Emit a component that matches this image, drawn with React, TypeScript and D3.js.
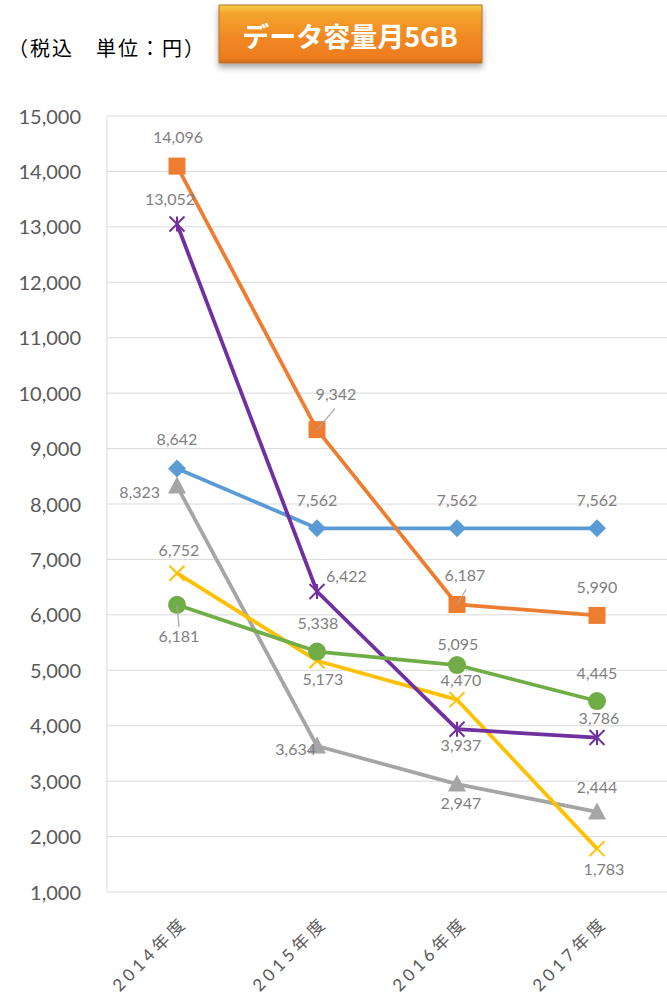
import { useRef, useEffect } from 'react'
import * as d3 from 'd3'

const categories = ['2014年度', '2015年度', '2016年度', '2017年度']
const yTickValues = [1000, 2000, 3000, 4000, 5000, 6000, 7000, 8000, 9000, 10000, 11000, 12000, 13000, 14000, 15000]

const blueValues = [8642, 7562, 7562, 7562]
const orangeValues = [14096, 9342, 6187, 5990]
const grayValues = [8323, 3634, 2947, 2444]
const yellowValues = [6752, 5173, 4470, 1783]
const purpleValues = [13052, 6422, 3937, 3786]
const greenValues = [6181, 5338, 5095, 4445]

type Anchor = 'start' | 'middle' | 'end'
type Nudge = [number, number, Anchor]

interface Series {
  values: number[]
  color: string
  marker: 'diamond' | 'square' | 'triangle' | 'x' | 'star' | 'circle'
  labels: Nudge[]
  leaders?: ([number, number] | null)[]
}

const series: Series[] = [
  {
    values: blueValues,
    color: '#5B9BD5',
    marker: 'diamond',
    labels: [[0, -30, 'middle'], [0, -29, 'middle'], [0, -29, 'middle'], [0, -29, 'middle']],
  },
  {
    values: orangeValues,
    color: '#ED7D31',
    marker: 'square',
    labels: [[1, -30, 'middle'], [19, -36, 'middle'], [8, -30, 'middle'], [0, -29, 'middle']],
    leaders: [null, [18, -21], [9, -15], null],
  },
  {
    values: grayValues,
    color: '#A5A5A5',
    marker: 'triangle',
    labels: [[-17, 5, 'end'], [-1, 2, 'end'], [4, 18, 'middle'], [0, -25, 'middle']],
  },
  {
    values: yellowValues,
    color: '#FFC000',
    marker: 'x',
    labels: [[2, -24, 'middle'], [6, 18, 'middle'], [4, -20, 'middle'], [7, 20, 'middle']],
  },
  {
    values: purpleValues,
    color: '#7030A0',
    marker: 'star',
    labels: [[-7, -25, 'middle'], [9, -16, 'start'], [4, 15, 'middle'], [2, -20, 'middle']],
  },
  {
    values: greenValues,
    color: '#70AD47',
    marker: 'circle',
    labels: [[2, 31, 'middle'], [1, -29, 'middle'], [1, -22, 'middle'], [0, -29, 'middle']],
    leaders: [[2, 22], null, null, null],
  },
]

const fmt = d3.format(',')

export default function App() {
  const svgRef = useRef<SVGSVGElement>(null)

  useEffect(() => {
    if (!svgRef.current) return
    const svg = d3.select(svgRef.current)
    svg.selectAll('*').remove()

    const W = 667
    const H = 1001
    const plot = { left: 107, right: 667, top: 116, bottom: 892 }

    const x = d3.scalePoint<string>().domain(categories).range([plot.left, plot.right]).padding(0.5)
    const y = d3.scaleLinear().domain([1000, 15000]).range([plot.bottom, plot.top])

    const defs = svg.append('defs')
    const grad = defs
      .append('linearGradient')
      .attr('id', 'title-grad')
      .attr('x1', '0%').attr('y1', '0%')
      .attr('x2', '0%').attr('y2', '100%')
    grad.append('stop').attr('offset', '0%').attr('stop-color', '#F7CF45')
    grad.append('stop').attr('offset', '14%').attr('stop-color', '#F4A52C')
    grad.append('stop').attr('offset', '55%').attr('stop-color', '#F18924')
    grad.append('stop').attr('offset', '92%').attr('stop-color', '#EE7C1E')
    grad.append('stop').attr('offset', '100%').attr('stop-color', '#C9691E')

    const shadow = defs.append('filter').attr('id', 'title-shadow').attr('x', '-10%').attr('y', '-20%').attr('width', '120%').attr('height', '160%')
    shadow.append('feDropShadow').attr('dx', 0).attr('dy', 4).attr('stdDeviation', 3).attr('flood-color', '#000').attr('flood-opacity', 0.35)

    // header
    svg.append('text')
      .attr('x', 8)
      .attr('y', 47)
      .attr('dominant-baseline', 'central')
      .attr('font-family', "'Noto Sans CJK JP', sans-serif")
      .attr('font-size', 20)
      .attr('letter-spacing', 2)
      .attr('fill', '#000')
      .text('（税込　単位：円）')

    svg.append('rect')
      .attr('x', 219).attr('y', 5)
      .attr('width', 263).attr('height', 58)
      .attr('fill', 'url(#title-grad)')
      .attr('stroke', '#B3702E')
      .attr('stroke-width', 1)
      .attr('filter', 'url(#title-shadow)')

    svg.append('text')
      .attr('x', 350)
      .attr('y', 35)
      .attr('text-anchor', 'middle')
      .attr('dominant-baseline', 'central')
      .attr('font-family', "'Noto Sans CJK JP', sans-serif")
      .attr('font-weight', 'bold')
      .attr('font-size', 27)
      .attr('fill', '#fff')
      .text('データ容量月5GB')

    // grid
    const g = svg.append('g')
    g.selectAll('line.grid')
      .data(yTickValues)
      .join('line')
      .attr('x1', plot.left).attr('x2', plot.right)
      .attr('y1', (d) => y(d)).attr('y2', (d) => y(d))
      .attr('stroke', '#D9D9D9')
      .attr('stroke-width', 1)
    g.append('line')
      .attr('x1', plot.left).attr('x2', plot.left)
      .attr('y1', plot.top).attr('y2', plot.bottom)
      .attr('stroke', '#D9D9D9')

    // y axis
    g.append('g')
      .attr('transform', `translate(${plot.left},0)`)
      .call(d3.axisLeft(y).tickValues(yTickValues).tickSize(0).tickPadding(26).tickFormat((d) => fmt(d as number)))
      .call((a) => {
        a.select('.domain').remove()
        a.selectAll('.tick text')
          .attr('fill', '#595959')
          .attr('font-size', 20)
          .attr('font-family', 'Lato, sans-serif')
          .attr('dy', '0.35em')
      })

    // x labels
    g.selectAll('text.xlab')
      .data(categories)
      .join('text')
      .attr('class', 'xlab')
      .attr('transform', (d) => `translate(${(x(d) as number) + 7},${plot.bottom + 27}) rotate(-45)`)
      .attr('text-anchor', 'end')
      .attr('dominant-baseline', 'central')
      .attr('font-family', "Lato, 'Noto Sans CJK JP', sans-serif")
      .attr('font-size', 17)
      .attr('letter-spacing', 4)
      .attr('fill', '#595959')
      .text((d) => d)

    const line = d3
      .line<number>()
      .x((_, i) => x(categories[i]) as number)
      .y((d) => y(d))

    const allPts: { v: number; px: number; py: number }[][] = []

    series.forEach((s) => {
      const sg = g.append('g')
      sg.append('path')
        .datum(s.values)
        .attr('fill', 'none')
        .attr('stroke', s.color)
        .attr('stroke-width', 3.75)
        .attr('stroke-linejoin', 'round')
        .attr('d', line)

      const pts = s.values.map((v, i) => ({ v, px: x(categories[i]) as number, py: y(v) }))
      pts.forEach((p) => {
        const m = sg.append('g').attr('transform', `translate(${p.px},${p.py})`)
        if (s.marker === 'diamond') {
          m.append('path').attr('d', 'M0,-9L9,0L0,9L-9,0Z').attr('fill', s.color)
        } else if (s.marker === 'square') {
          m.append('rect').attr('x', -8.5).attr('y', -8.5).attr('width', 17).attr('height', 17).attr('fill', s.color)
        } else if (s.marker === 'triangle') {
          m.append('path').attr('d', 'M0,-9.5L9,7.5L-9,7.5Z').attr('fill', s.color)
        } else if (s.marker === 'circle') {
          m.append('circle').attr('r', 9).attr('fill', s.color)
        } else {
          const r = 7.5
          m.append('path')
            .attr('d', `M${-r},${-r}L${r},${r}M${r},${-r}L${-r},${r}` + (s.marker === 'star' ? `M0,${-r}L0,${r}` : ''))
            .attr('stroke', s.color)
            .attr('stroke-width', 2)
            .attr('fill', 'none')
        }
      })
      allPts.push(pts)
    })

    // leader lines and labels on top
    series.forEach((s, si) => {
      allPts[si].forEach((p, i) => {
        const ld = s.leaders?.[i]
        if (ld) {
          g.append('line')
            .attr('x1', p.px).attr('y1', p.py)
            .attr('x2', p.px + ld[0]).attr('y2', p.py + ld[1])
            .attr('stroke', '#A5A5A5')
            .attr('stroke-width', 1.2)
        }
        const [dx, dy, anchor] = s.labels[i]
        g.append('text')
          .attr('x', p.px + dx)
          .attr('y', p.py + dy)
          .attr('text-anchor', anchor)
          .attr('dominant-baseline', 'central')
          .attr('font-family', 'Lato, sans-serif')
          .attr('font-size', 16)
          .attr('fill', '#7F7F7F')
          .text(fmt(p.v))
      })
    })

    svg.attr('width', W).attr('height', H)
  }, [])

  return (
    <div style={{ position: 'absolute', left: 0, top: 0, width: 667, height: 1001, background: '#fff' }}>
      <svg ref={svgRef} width={667} height={1001} style={{ display: 'block' }} />
    </div>
  )
}
